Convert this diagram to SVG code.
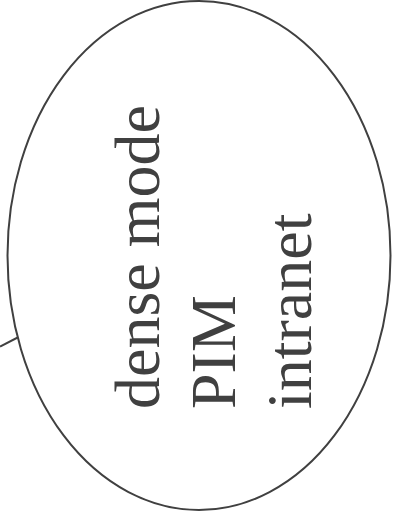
<svg xmlns="http://www.w3.org/2000/svg" width="394" height="518" viewBox="0 0 394 518">
<style>
.node{fill:#fff;stroke:#404040;stroke-width:2}
.edge{fill:none;stroke:#404040;stroke-width:2}
.lbl{font-family:"Liberation Serif","Times New Roman",serif;font-size:64px;fill:#404040}
</style>
<rect width="394" height="518" fill="#fff"/>
<g id="connectors">
<line class="edge" x1="0" y1="346.5" x2="22.5" y2="335"/>
</g>
<g id="node-dense-mode-pim-intranet">
<ellipse class="node" cx="199" cy="255.5" rx="191.5" ry="254.5"/>
<text class="lbl" transform="translate(159,409) rotate(-90)">dense mode</text>
<text class="lbl" transform="translate(235,409) rotate(-90)">PIM</text>
<text class="lbl" transform="translate(311,409) rotate(-90)">intranet</text>
</g>
</svg>
